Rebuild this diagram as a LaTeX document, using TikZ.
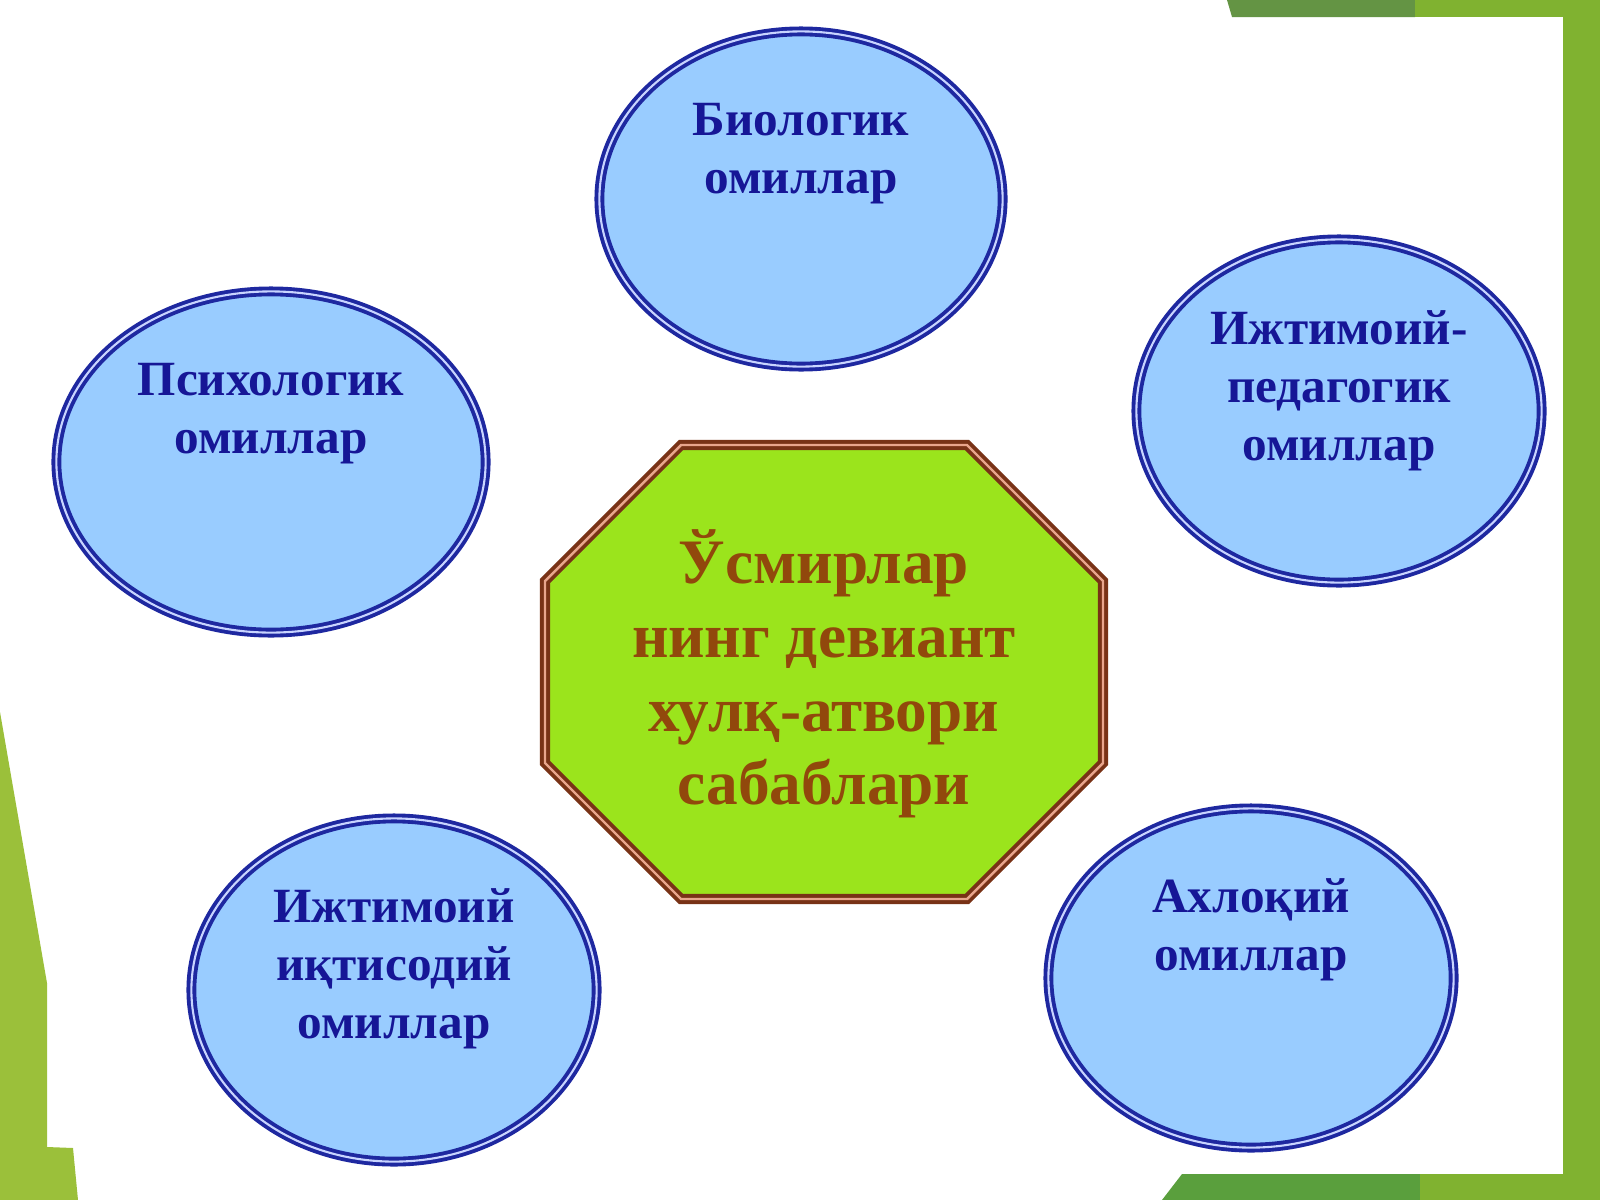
\documentclass[tikz,border=0pt]{standalone}
\usepackage{fontspec}
\setmainfont{Liberation Serif}
\usepackage{xcolor}
\usepackage{tikz}
\usetikzlibrary{shapes.geometric,positioning}
\definecolor{factorfill}{RGB}{153,204,255}
\definecolor{factorline}{RGB}{30,40,160}
\definecolor{factorgap}{RGB}{200,212,255}
\definecolor{factortext}{RGB}{22,22,150}
\definecolor{corefill}{RGB}{155,228,28}
\definecolor{coreline}{RGB}{120,50,22}
\definecolor{coregap}{RGB}{232,165,140}
\definecolor{coretext}{RGB}{145,72,12}
\definecolor{framelight}{RGB}{128,178,48}
\definecolor{framedark}{RGB}{100,148,68}
\definecolor{frameleft}{RGB}{155,192,58}
\tikzset{
    factor/.style={ellipse, fill=factorfill, draw=factorline, line width=1.1pt,
        double=factorgap, double distance=0.6pt, inner sep=0pt},
    factorlabel/.style={align=center, text=factortext,
        font=\fontsize{14}{16.5}\selectfont\bfseries},
    corelabel/.style={align=center, text=coretext,
        font=\fontsize{18}{21}\selectfont\bfseries}
}

\begin{document}
\begin{tikzpicture}[x=0.01cm,y=-0.01cm]
            \useasboundingbox (0,0) rectangle (1600,1200);
            % Draw background frame
            \fill[white] (0,0) rectangle (1600,1200);
            \fill[framedark] (1227,0) -- (1232,17) -- (1415,17) -- (1415,0) -- cycle;
            \fill[framelight] (1415,0) rectangle (1600,17);
            \fill[framelight] (1563,0) rectangle (1600,1200);
            \fill[frameleft] (0,712) -- (47,983) -- (47,1147) -- (73,1148) -- (78,1200) -- (0,1200) -- cycle;
            \fill[framedark!90!green] (1162,1200) -- (1182,1174) -- (1420,1174) -- (1420,1200) -- cycle;
            \fill[framelight] (1420,1174) rectangle (1600,1200);
            
            % Draw factor ellipses
            \node[factor, minimum width=4.03cm, minimum height=3.35cm] (bio) at (801,199) {};
            \node[factor, minimum width=4.29cm, minimum height=3.41cm] (psy) at (271,462) {};
            \node[factor, minimum width=4.05cm, minimum height=3.43cm] (ped) at (1339,411) {};
            \node[factor, minimum width=4.05cm, minimum height=3.43cm] (eco) at (394,990) {};
            \node[factor, minimum width=4.05cm, minimum height=3.39cm] (mor) at (1251,978) {};
            
            % Add factor labels
            \node[factorlabel] (bioT) at ([yshift=0.45cm]bio.center) {Биологик\\омиллар};
            \node[factorlabel] (psyT) at ([yshift=0.48cm]psy.center) {Психологик\\омиллар};
            \node[factorlabel] (pedT) at ([yshift=0.20cm]ped.center) {Ижтимоий-\\педагогик\\омиллар};
            \node[factorlabel] (ecoT) at ([yshift=0.21cm]eco.center) {Ижтимоий\\иқтисодий\\омиллар};
            \node[factorlabel] (morT) at ([yshift=0.48cm]mor.center) {Ахлоқий\\омиллар};
            
            % Draw central octagon
            \draw[fill=corefill, draw=coreline, line width=1.1pt, double=coregap, double distance=0.7pt]
                (681,445) -- (967,445) -- (1103,581) -- (1103,763) -- (967,899) -- (681,899)
                -- (545,763) -- (545,581) -- cycle;
            \node[corelabel] (core) at (824,674) {Ўсмирлар\\нинг девиант\\хулқ-атвори\\сабаблари};
\end{tikzpicture}
\end{document}
